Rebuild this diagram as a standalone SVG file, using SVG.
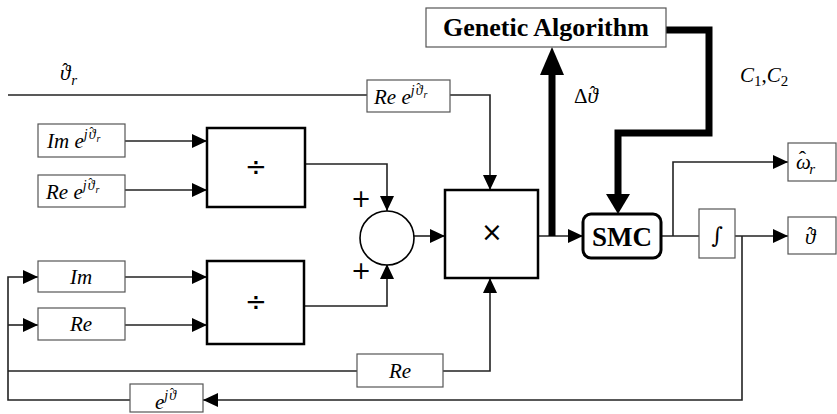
<svg xmlns="http://www.w3.org/2000/svg" width="837" height="414" viewBox="0 0 837 414">
  <style>
    .blk { fill: #fff; stroke: #000; stroke-width: 2.5; }
    .lbl { fill: #fff; stroke: #555; stroke-width: 1.2; }
    .wire { fill: none; stroke: #222; stroke-width: 1.6; }
    .thick { fill: none; stroke: #000; stroke-width: 7; }
    .m { font-family: "Liberation Serif", "DejaVu Serif", serif; font-style: italic; font-size: 21px; fill: #000; }
    .up { font-style: normal; }
    .sp { font-size: 14px; }
    .ss { font-size: 10px; }
    .hat { font-style: normal; font-size: 18px; }
    .hs { font-style: normal; font-size: 12px; }
    .sub { font-size: 15px; }
    .sym { font-family: "DejaVu Sans", "Liberation Sans", sans-serif; font-size: 26px; fill: #000; text-anchor: middle; }
    .bold { font-family: "Liberation Serif", "DejaVu Serif", serif; font-weight: bold; fill: #000; text-anchor: middle; }
  </style>
  <defs>
    <marker id="arr" markerUnits="userSpaceOnUse" markerWidth="15" markerHeight="14" refX="15" refY="7" orient="auto">
      <path d="M0,0 L15,7 L0,14 Z" fill="#000"/>
    </marker>
  </defs>

  <!-- connectors -->
  <g id="connectors">
    <!-- reference angle into Re e^{j theta_r} and on to the multiplier -->
    <path class="wire" d="M8,95 H367"/>
    <path class="wire" d="M450,95 H490 V190" marker-end="url(#arr)"/>
    <!-- inputs to upper divider -->
    <path class="wire" d="M125,141 H207" marker-end="url(#arr)"/>
    <path class="wire" d="M125,190 H207" marker-end="url(#arr)"/>
    <!-- inputs to lower divider -->
    <path class="wire" d="M125,277 H207" marker-end="url(#arr)"/>
    <path class="wire" d="M125,325 H207" marker-end="url(#arr)"/>
    <!-- dividers into summing junction -->
    <path class="wire" d="M305,164 H387 V211" marker-end="url(#arr)"/>
    <path class="wire" d="M304,306 H387 V264" marker-end="url(#arr)"/>
    <!-- sum into multiplier -->
    <path class="wire" d="M414,236 H445" marker-end="url(#arr)"/>
    <!-- Re feed into multiplier bottom -->
    <path class="wire" d="M443,371 H490 V278" marker-end="url(#arr)"/>
    <!-- multiplier to SMC -->
    <path class="wire" d="M538,236 H583" marker-end="url(#arr)"/>
    <!-- SMC outputs -->
    <path class="wire" d="M661,236 H699"/>
    <path class="wire" d="M673,236 V162 H788" marker-end="url(#arr)"/>
    <path class="wire" d="M735,236 H788" marker-end="url(#arr)"/>
    <!-- feedback of estimated angle -->
    <path class="wire" d="M742,236 V400 H203" marker-end="url(#arr)"/>
    <path class="wire" d="M130,400 H8 V277 H38" marker-end="url(#arr)"/>
    <path class="wire" d="M8,325 H38" marker-end="url(#arr)"/>
    <path class="wire" d="M8,371 H357"/>
    <!-- genetic algorithm loop -->
    <path class="thick" d="M552,236 V74"/>
    <polygon points="540,75 564,75 552,47" fill="#000"/>
    <path class="thick" d="M666,30 H709 V133 H618 V195"/>
    <polygon points="606,194 630,194 618,214" fill="#000"/>
  </g>

  <!-- labels on wires -->
  <text class="m" x="60" y="80">ϑ<tspan class="hat" dx="-8" dy="-4">ˆ</tspan><tspan class="sub" dx="3" dy="9">r</tspan></text>
  <text class="m" x="574" y="103"><tspan class="up">Δ</tspan>ϑ<tspan class="hat" dx="-8" dy="-4">ˆ</tspan></text>
  <text class="m" x="740" y="82">C<tspan class="sub up" dy="4">1</tspan><tspan class="up" dy="-4">,</tspan>C<tspan class="sub up" dy="4">2</tspan></text>
  <text x="361" y="207" class="sym" style="font-size:24px">+</text>
  <text x="361" y="279" class="sym" style="font-size:24px">+</text>

  <g id="re-ejthr-top">
    <rect class="lbl" x="367" y="80" width="83" height="32"/>
    <text class="m" x="374" y="104">Re e<tspan class="sp" dy="-9">j</tspan><tspan class="sp" dx="1">ϑ</tspan><tspan class="hs" dx="-6" dy="-3">ˆ</tspan><tspan class="ss" dx="3" dy="6">r</tspan></text>
  </g>

  <g id="im-ejthr">
    <rect class="lbl" x="38" y="124" width="87" height="33"/>
    <text class="m" x="47" y="148">Im e<tspan class="sp" dy="-9">j</tspan><tspan class="sp" dx="1">ϑ</tspan><tspan class="hs" dx="-6" dy="-3">ˆ</tspan><tspan class="ss" dx="3" dy="6">r</tspan></text>
  </g>

  <g id="re-ejthr">
    <rect class="lbl" x="38" y="175" width="87" height="32"/>
    <text class="m" x="46" y="199">Re e<tspan class="sp" dy="-9">j</tspan><tspan class="sp" dx="1">ϑ</tspan><tspan class="hs" dx="-6" dy="-3">ˆ</tspan><tspan class="ss" dx="3" dy="6">r</tspan></text>
  </g>

  <g id="im">
    <rect class="lbl" x="38" y="261" width="87" height="31"/>
    <text class="m" x="81" y="284" text-anchor="middle">Im</text>
  </g>

  <g id="re">
    <rect class="lbl" x="38" y="308" width="87" height="32"/>
    <text class="m" x="81" y="331" text-anchor="middle">Re</text>
  </g>

  <g id="div-top">
    <rect class="blk" x="207" y="128" width="98" height="79"/>
    <text class="sym" x="256" y="176">÷</text>
  </g>

  <g id="div-bottom">
    <rect class="blk" x="207" y="261" width="97" height="83"/>
    <text class="sym" x="256" y="311">÷</text>
  </g>

  <g id="sum">
    <circle cx="387" cy="238" r="27" fill="#fff" stroke="#000" stroke-width="1.6"/>
  </g>

  <g id="mult">
    <rect class="blk" x="445" y="190" width="93" height="88"/>
    <text class="sym" x="492" y="241">×</text>
  </g>

  <g id="re-bottom">
    <rect class="lbl" x="357" y="354" width="86" height="33"/>
    <text class="m" x="400" y="378" text-anchor="middle">Re</text>
  </g>

  <g id="ejth">
    <rect class="lbl" x="130" y="384" width="73" height="28"/>
    <text class="m" x="155" y="409">e<tspan class="sp" dy="-9">j</tspan><tspan class="sp" dx="1">ϑ</tspan><tspan class="hs" dx="-6" dy="-3">ˆ</tspan></text>
  </g>

  <g id="ga">
    <rect class="lbl" x="426" y="8" width="240" height="39"/>
    <text class="bold" x="546" y="36" font-size="26">Genetic Algorithm</text>
  </g>

  <g id="smc">
    <rect x="583" y="214" width="78" height="44" rx="8" fill="#fff" stroke="#000" stroke-width="3"/>
    <text class="bold" x="622" y="246" font-size="27">SMC</text>
  </g>

  <g id="integrator">
    <rect class="lbl" x="699" y="209" width="36" height="49"/>
    <text x="717" y="243" font-family="DejaVu Serif, serif" font-size="22" text-anchor="middle">∫</text>
  </g>

  <g id="omega-out">
    <rect class="lbl" x="788" y="143" width="48" height="38"/>
    <text class="m" x="796" y="169" font-size="23">ω<tspan class="hat" dx="-12" dy="-3" style="font-size:22px">ˆ</tspan><tspan class="sub" dx="3" dy="8">r</tspan></text>
  </g>

  <g id="theta-out">
    <rect class="lbl" x="788" y="217" width="48" height="37"/>
    <text class="m" x="805" y="244">ϑ<tspan class="hat" dx="-8" dy="-4">ˆ</tspan></text>
  </g>
</svg>
